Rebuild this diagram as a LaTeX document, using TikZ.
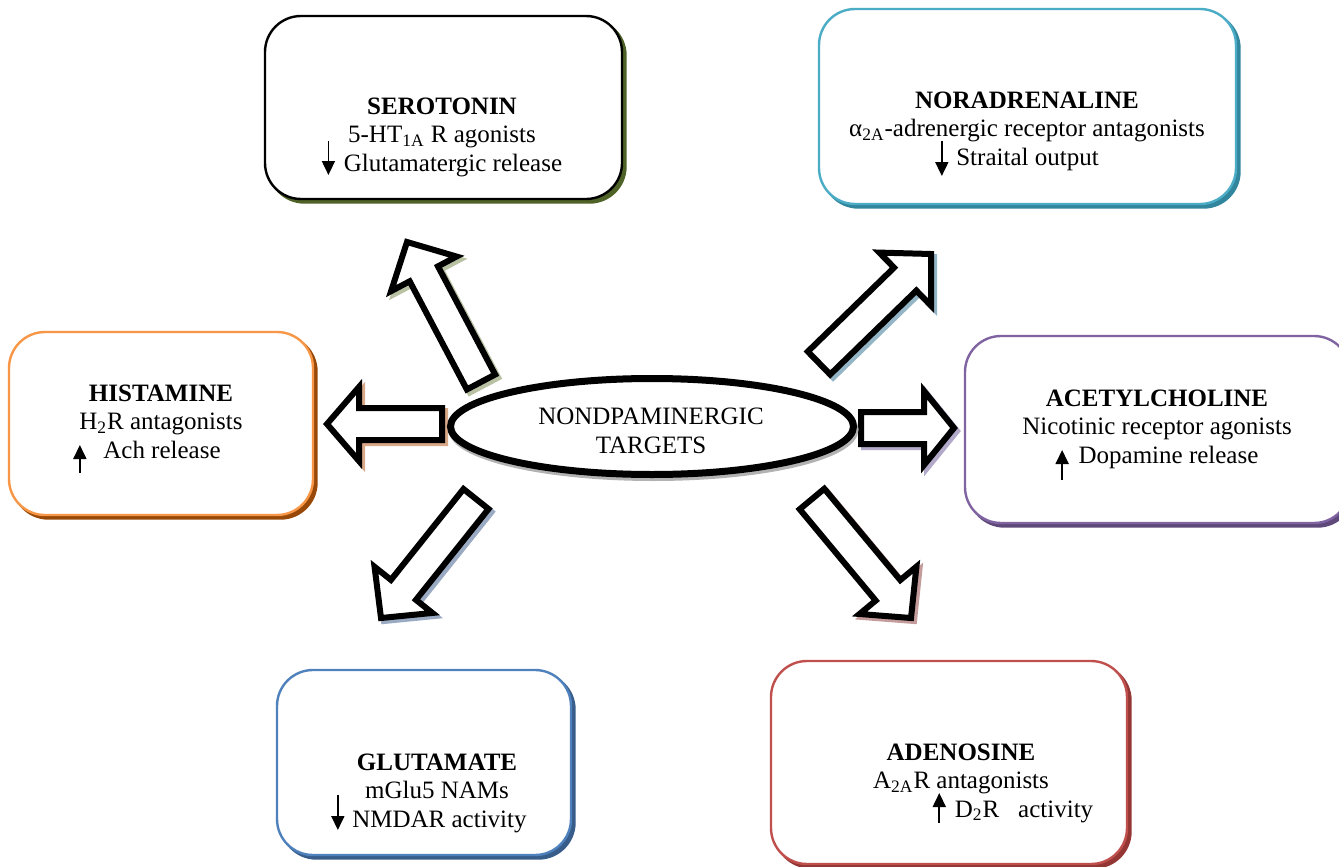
\documentclass[tikz,border=0pt]{standalone}
\usepackage{fontspec}
\setmainfont{Liberation Serif}
\usepackage{xcolor}
\usetikzlibrary{shapes.geometric, calc, arrows.meta}

% box outlines and their shadows
\definecolor{seroshadow}{HTML}{4F6228}
\definecolor{noraline}{HTML}{4BACC6}
\definecolor{norashadow}{HTML}{31859C}
\definecolor{histline}{HTML}{F79646}
\definecolor{histshadow}{HTML}{984807}
\definecolor{acetline}{HTML}{8064A2}
\definecolor{acetshadow}{HTML}{5F497A}
\definecolor{glutline}{HTML}{4F81BD}
\definecolor{glutshadow}{HTML}{385D8A}
\definecolor{adenline}{HTML}{C0504D}
\definecolor{adenshadow}{HTML}{943634}
% light shadows of the block arrows
\definecolor{seroarr}{HTML}{B8C2A3}
\definecolor{noraarr}{HTML}{93B5C6}
\definecolor{histarr}{HTML}{D9A98A}
\definecolor{acetarr}{HTML}{B3A9C9}
\definecolor{glutarr}{HTML}{9AAAC2}
\definecolor{adenarr}{HTML}{C59C9C}

% small up/down arrow inside a text line: #1 start, #2 end (from baseline)
\newcommand{\txtarrow}[2]{\smash{\tikz[baseline=0pt]\draw[line width=0.9pt,
  -{Triangle[length=7pt,width=6.5pt]}] (0,#1) -- (0,#2);}}

% block arrow from (#2-from) to (#2-to), #1 head length, #3 shadow colour
\newcommand{\blockarrow}[3][18pt]{%
  \coordinate (#2-head) at ($(#2-to)!#1!(#2-from)$);
  \draw[fatarrow, preaction={draw=#3, fill=#3, line width=3pt,
      transform canvas={shift={(1.5pt,-1.5pt)}}}]
    ($(#2-from)!8pt!90:(#2-to)$) -- ($(#2-head)!8pt!90:(#2-to)$)
    -- ($(#2-head)!18.5pt!90:(#2-to)$) -- (#2-to)
    -- ($(#2-head)!18.5pt!-90:(#2-to)$) -- ($(#2-head)!8pt!-90:(#2-to)$)
    -- ($(#2-from)!8pt!-90:(#2-to)$) -- cycle;
}

\begin{document}
\begin{tikzpicture}[x=0.5pt,y=-0.5pt,
  box/.style={draw=#1, rounded corners=18pt, line width=1.2pt, fill=white,
    inner sep=0pt},
  boxshadow/.style={preaction={draw=#1, fill=#1, line width=1.2pt,
    transform canvas={shift={(1.75pt,-1.75pt)}}}},
  boxtext/.style={font=\fontsize{12.5}{14.25}\selectfont, align=center,
    anchor=base, inner sep=0pt},
  fatarrow/.style={draw=black, fill=white, line width=3pt, miter limit=20}]

\useasboundingbox (0,0) rectangle (1339,867);

% ------------------------------------------------------------
% Target boxes
% ------------------------------------------------------------
\node[box=black, boxshadow=seroshadow, minimum width=178.5pt,
  minimum height=91.5pt] (sero) at (443.5,107.5) {};
\node[box=noraline, boxshadow=norashadow, minimum width=208.5pt,
  minimum height=97.5pt] (nora) at (1027.5,106.5) {};
\node[box=histline, boxshadow=histshadow, minimum width=152pt,
  minimum height=91.5pt] (hist) at (161,423.5) {};
\node[box=acetline, boxshadow=acetshadow, minimum width=192.5pt,
  minimum height=93.5pt] (acet) at (1157.5,429.5) {};
\node[box=glutline, boxshadow=glutshadow, minimum width=147pt,
  minimum height=92.5pt] (glut) at (424,762.5) {};
\node[box=adenline, boxshadow=adenshadow, minimum width=178pt,
  minimum height=101.5pt] (aden) at (949,762.5) {};

% box texts (placed by the baseline of the last line)
\node[boxtext] (serotext) at (442,171)
{\textbf{SEROTONIN}\\5-HT\textsubscript{1A} R agonists\\
 \txtarrow{15pt}{-2pt}\hspace{4.5pt}Glutamatergic release};
\node[boxtext] (noratext) at (1027,165)
{\textbf{NORADRENALINE}\\α\textsubscript{2A}-adrenergic receptor antagonists\\
 \txtarrow{12pt}{-5.5pt}\hspace{4pt}Straital output\hspace*{10pt}};
\node[boxtext] (histtext) at (161,458)
{\textbf{HISTAMINE}\\H\textsubscript{2}R antagonists\\
 \txtarrow{-7.5pt}{6.5pt}\hspace{8.5pt}Ach release\hspace*{14pt}};
\node[boxtext] (acettext) at (1157,463)
{\textbf{ACETYLCHOLINE}\\Nicotinic receptor agonists\\
 \txtarrow{-8.5pt}{6.5pt}\hspace{5pt}Dopamine release};
\node[boxtext] (gluttext) at (437,827)
{\textbf{GLUTAMATE}\\mGlu5 NAMs\\
 \txtarrow{16pt}{-1.5pt}\hspace{4pt}NMDAR activity\hspace*{8pt}};
\node[boxtext] (adentext) at (961,817)
{\textbf{ADENOSINE}\\A\textsubscript{2A}R antagonists\\
 \hspace*{52pt}\txtarrow{-3pt}{12pt}\hspace{4.5pt}D\textsubscript{2}R\hspace{9.5pt}activity};

% ------------------------------------------------------------
% Block arrows out of the centre
% ------------------------------------------------------------
\coordinate (a-sero-from) at (481,382);  \coordinate (a-sero-to) at (407,242);
\coordinate (a-nora-from) at (819,363);  \coordinate (a-nora-to) at (931,254);
\coordinate (a-hist-from) at (442,424);  \coordinate (a-hist-to) at (327,424);
\coordinate (a-acet-from) at (861,428);  \coordinate (a-acet-to) at (954,428);
\coordinate (a-glut-from) at (476,499);  \coordinate (a-glut-to) at (381,618);
\coordinate (a-aden-from) at (812,499);  \coordinate (a-aden-to) at (911,618);

\blockarrow{a-sero}{seroarr}
\blockarrow{a-nora}{noraarr}
\blockarrow[16pt]{a-hist}{histarr}
\blockarrow[15pt]{a-acet}{acetarr}
\blockarrow{a-glut}{glutarr}
\blockarrow{a-aden}{adenarr}

% ------------------------------------------------------------
% Centre ellipse
% ------------------------------------------------------------
\node[ellipse, draw, line width=3.5pt, fill=white, inner sep=0pt,
  minimum width=201.5pt, minimum height=48pt,
  preaction={draw=black!30, fill=black!30, line width=3.5pt,
    transform canvas={shift={(0.75pt,-1.5pt)}}}] (hub) at (652,426.5) {};
\node[boxtext] (hubtext) at (651,453) {NONDPAMINERGIC\\TARGETS};

\end{tikzpicture}
\end{document}
